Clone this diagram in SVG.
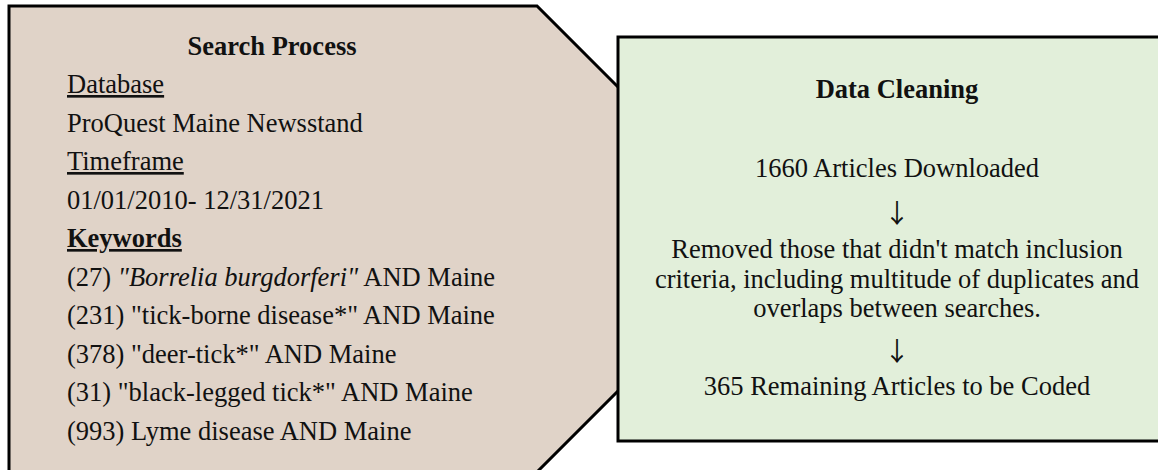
<svg xmlns="http://www.w3.org/2000/svg" width="1158" height="470" viewBox="0 0 1158 470">
<style>
.t{font-family:"Liberation Serif","Times New Roman",serif;font-size:26.5px;fill:#111}
.b{font-weight:bold}
.u{text-decoration:underline}
.c{text-anchor:middle}
.ar{font-family:"Noto Sans CJK SC","DejaVu Sans",sans-serif;font-size:26px;fill:#111;text-anchor:middle}
.shape{stroke:#000;stroke-width:3}
</style>
<rect width="1158" height="470" fill="#fff"/>
<g id="search-process">
<polygon class="shape" fill="#E0D3C8" points="9,6 537,6 770,239 537,472 9,472"/>
<text class="t b c" x="272" y="55">Search Process</text>
<text class="t u" x="67" y="93">Database</text>
<text class="t" x="67" y="132">ProQuest Maine Newsstand</text>
<text class="t u" x="67" y="170">Timeframe</text>
<text class="t" x="67" y="209">01/01/2010- 12/31/2021</text>
<text class="t b u" x="67" y="247">Keywords</text>
<text class="t" x="67" y="286">(27) <tspan font-style="italic">"Borrelia burgdorferi"</tspan> AND Maine</text>
<text class="t" x="67" y="324">(231) "tick-borne disease*" AND Maine</text>
<text class="t" x="67" y="363">(378) "deer-tick*" AND Maine</text>
<text class="t" x="67" y="401">(31) "black-legged tick*" AND Maine</text>
<text class="t" x="67" y="440">(993) Lyme disease AND Maine</text>
</g>
<g id="data-cleaning">
<rect class="shape" fill="#E2EFDA" x="618" y="37" width="560" height="404"/>
<text class="t b c" x="897" y="98">Data Cleaning</text>
<text class="t c" x="897" y="177">1660 Articles Downloaded</text>
<text class="ar" x="897" y="223">↓</text>
<text class="t c" x="897" y="258">Removed those that didn't match inclusion</text>
<text class="t c" x="897" y="288">criteria, including multitude of duplicates and</text>
<text class="t c" x="897" y="317">overlaps between searches.</text>
<text class="ar" x="897" y="361">↓</text>
<text class="t c" x="897" y="395">365 Remaining Articles to be Coded</text>
</g>
<g id="connectors"/>
</svg>
